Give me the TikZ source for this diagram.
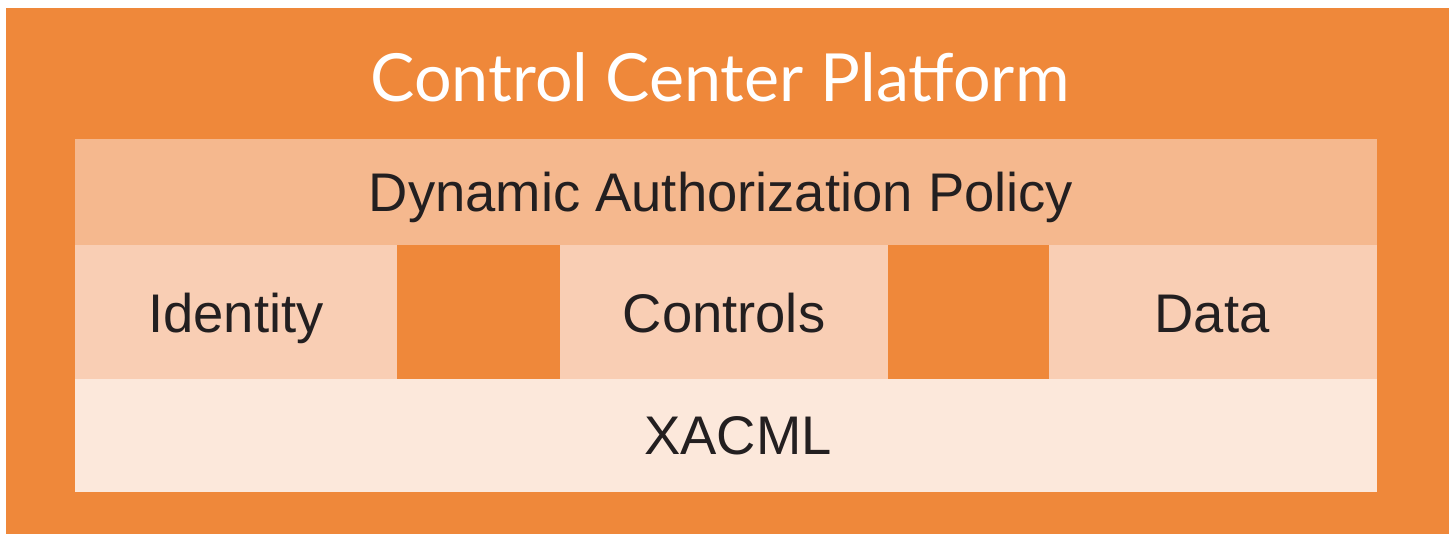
\documentclass[tikz,border=0pt]{standalone}
\usepackage{fontspec}
\setmainfont{Liberation Sans}
\newfontfamily\titlefont{Lato}
\definecolor{outerorange}{RGB}{239,136,58}
\definecolor{dynband}{RGB}{245,184,142}
\definecolor{midband}{RGB}{249,206,180}
\definecolor{xacband}{RGB}{252,232,219}
\definecolor{txtdark}{RGB}{35,31,32}
\tikzset{
  band/.style={draw=none, inner sep=0pt, outer sep=0pt},
  lbl/.style={anchor=base, text=txtdark, font=\fontsize{27.2pt}{30pt}\selectfont, inner sep=0pt},
  ttl/.style={anchor=base, text=white, font=\titlefont\fontsize{33.2pt}{37pt}\selectfont, inner sep=0pt}
}
\begin{document}
\begin{tikzpicture}[x=0.5pt,y=-0.5pt]
\useasboundingbox (0,0) rectangle (1449,534);
\fill[white] (0,0) rectangle (1449,534);
% outer platform
\fill[outerorange] (6,8) rectangle (1449,534);
% bands
\fill[dynband] (75,139) rectangle (1377,245);
\fill[midband] (75,245) rectangle (397,379);
\fill[outerorange] (397,245) rectangle (560,379);
\fill[midband] (560,245) rectangle (888,379);
\fill[outerorange] (888,245) rectangle (1049,379);
\fill[midband] (1049,245) rectangle (1377,379);
\fill[xacband] (75,379) rectangle (1377,492);
% labels
\node[ttl] (title) at (720,102) {Control Center Platform};
\node[lbl] (dap) at (721,212) {Dynamic Authorization Policy};
\node[lbl] (identity) at (236,332) {Identity};
\node[lbl] (controls) at (724,332) {Controls};
\node[lbl] (data) at (1212,332) {Data};
\node[lbl] (xacml) at (738,454) {XACML};
\end{tikzpicture}
\end{document}
